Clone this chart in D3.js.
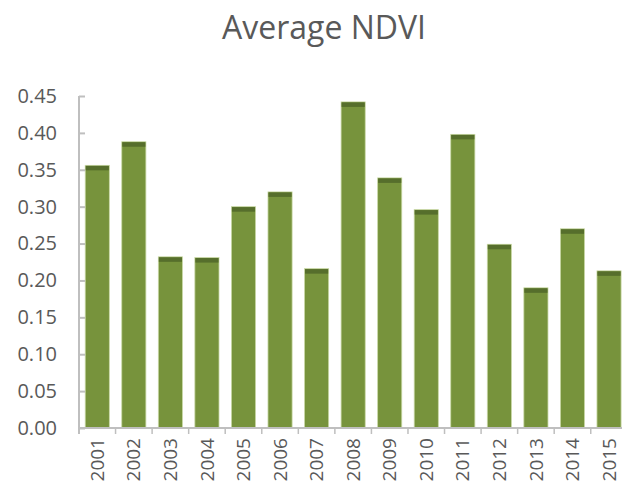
<!DOCTYPE html>
<html>
<head>
<meta charset="utf-8">
<script src="https://cdn.jsdelivr.net/npm/d3@7"></script>
<style>
html,body{margin:0;padding:0;background:#fff;overflow:hidden;}
text{font-family:"Open Sans",sans-serif;fill:#595959;}
</style>
</head>
<body>
<svg id="chart" width="622" height="483"></svg>
<script>
const years = ["2001","2002","2003","2004","2005","2006","2007","2008","2009","2010","2011","2012","2013","2014","2015"];
const ndvi = [0.356,0.388,0.232,0.231,0.300,0.320,0.216,0.442,0.339,0.296,0.398,0.249,0.190,0.270,0.213];
const yTicks = [0,0.05,0.10,0.15,0.20,0.25,0.30,0.35,0.40,0.45];
const title = "Average NDVI";

const svg = d3.select("#chart");
const x0 = 79, x1 = 627.3, yBase = 428, yTop = 96;
const x = d3.scaleBand().domain(years).range([x0, x1]).paddingInner(0.34).paddingOuter(0.17);
const y = d3.scaleLinear().domain([0, 0.45]).range([yBase, yTop]);

svg.append("text").attr("x", 324).attr("y", 39).attr("text-anchor","middle")
  .style("font-size","32px").text(title);

// bars
const g = svg.append("g");
g.selectAll("rect.bar").data(years).enter().append("rect").attr("class","bar")
  .attr("x", d => x(d)).attr("width", x.bandwidth())
  .attr("y", (d,i) => y(ndvi[i])).attr("height", (d,i) => yBase - y(ndvi[i]))
  .attr("fill","#77933c").attr("stroke","#c9d8a6").attr("stroke-width",0.8);
g.selectAll("rect.cap").data(years).enter().append("rect").attr("class","cap")
  .attr("x", d => x(d)+0.5).attr("width", x.bandwidth()-1)
  .attr("y", (d,i) => y(ndvi[i])+0.5).attr("height", 4.5)
  .attr("fill","#566e2c");

// y axis
const yAxis = d3.axisLeft(y).tickValues(yTicks).tickFormat(d3.format(".2f")).tickSize(0).tickPadding(22);
const ya = svg.append("g").attr("transform",`translate(${x0},0)`).call(yAxis);
ya.select(".domain").remove();
ya.selectAll("text").style("font-size","20px").style("fill","#595959").attr("font-family","Open Sans");
ya.selectAll(".tick").append("line").attr("x1",0).attr("x2",6).attr("stroke","#bfbfbf").attr("stroke-width",2);
svg.append("line").attr("x1",x0).attr("x2",x0).attr("y1",yTop).attr("y2",yBase+6)
  .attr("stroke","#bfbfbf").attr("stroke-width",2);

// x axis
const xAxis = d3.axisBottom(x).tickSize(0).tickPadding(0);
const xa = svg.append("g").attr("transform",`translate(0,${yBase})`).call(xAxis);
xa.select(".domain").remove();
xa.selectAll("text").style("font-size","19px").style("fill","#595959").attr("font-family","Open Sans")
  .attr("transform","rotate(-90)").attr("text-anchor","end").attr("x",-10).attr("y",0).attr("dy","0.35em");
svg.append("line").attr("x1",x0).attr("x2",x1).attr("y1",yBase).attr("y2",yBase)
  .attr("stroke","#bfbfbf").attr("stroke-width",2);
const step = x.step();
svg.selectAll("line.xt").data(d3.range(years.length+1)).enter().append("line").attr("class","xt")
  .attr("x1", i => x0 + i*step).attr("x2", i => x0 + i*step)
  .attr("y1", yBase).attr("y2", yBase+6).attr("stroke","#bfbfbf").attr("stroke-width",1.5);
</script>
</body>
</html>
